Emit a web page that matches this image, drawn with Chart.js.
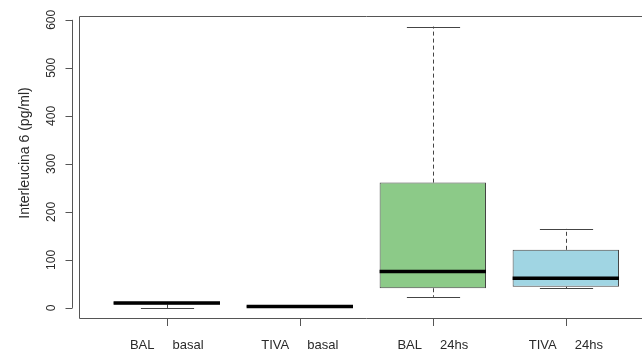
<!DOCTYPE html>
<html>
<head>
<meta charset="utf-8">
<script src="https://cdn.jsdelivr.net/npm/chart.js@4.4.1/dist/chart.umd.min.js"></script>
<style>
  html, body { margin: 0; padding: 0; background: #ffffff; overflow: hidden; }
  #wrap { width: 642px; height: 351px; overflow: hidden; }
  canvas { display: block; }
</style>
</head>
<body>
<div id="wrap"><canvas id="chart" width="662" height="351"></canvas></div>
<script>
// Interleukin 6 by group: five-number summaries per box
const categories  = ['BAL     basal', 'TIVA     basal', 'BAL     24hs', 'TIVA     24hs'];
const whiskerLow  = [0, 1, 23, 41];
const q1          = [7, 2, 41, 44];
const median      = [10, 3, 76, 62];
const q3          = [13, 4.5, 261, 121];
const whiskerHigh = [13, 5, 586, 165];
const boxColors   = ['#ffffff', '#ffffff', '#8cca88', '#a0d5e3'];
const yTicks      = [0, 100, 200, 300, 400, 500, 600];
const yTitle      = 'Interleucina 6 (pg/ml)';

const FONT = '"Liberation Sans", Arial, sans-serif';
const INK = '#2a2a2a';

const boxplotExtras = {
  id: 'boxplotExtras',
  beforeDatasetsDraw(chart) {
    const { ctx } = chart;
    const y = chart.scales.y;
    const bars = chart.getDatasetMeta(0).data;
    ctx.save();
    bars.forEach((bar, i) => {
      const cx = Math.round(bar.x) + 0.5;
      const half = bar.width / 4;
      ctx.strokeStyle = '#444';
      ctx.lineWidth = 1;
      // dashed whiskers
      ctx.setLineDash([4, 3]);
      ctx.beginPath();
      ctx.moveTo(cx, y.getPixelForValue(q3[i]));
      ctx.lineTo(cx, y.getPixelForValue(whiskerHigh[i]));
      ctx.moveTo(cx, y.getPixelForValue(q1[i]));
      ctx.lineTo(cx, y.getPixelForValue(whiskerLow[i]));
      ctx.stroke();
      // whisker caps
      ctx.setLineDash([]);
      ctx.beginPath();
      [whiskerHigh[i], whiskerLow[i]].forEach(v => {
        const py = Math.round(y.getPixelForValue(v)) + 0.5;
        ctx.moveTo(cx - half, py);
        ctx.lineTo(cx + half, py);
      });
      ctx.stroke();
    });
    ctx.restore();
  },
  afterDatasetsDraw(chart) {
    const { ctx } = chart;
    const y = chart.scales.y;
    const bars = chart.getDatasetMeta(0).data;
    ctx.save();
    ctx.strokeStyle = '#000';
    ctx.lineWidth = 3.5;
    bars.forEach((bar, i) => {
      const py = y.getPixelForValue(median[i]);
      ctx.beginPath();
      ctx.moveTo(bar.x - bar.width / 2, py);
      ctx.lineTo(bar.x + bar.width / 2, py);
      ctx.stroke();
    });
    ctx.restore();
  },
  afterDraw(chart) {
    const { ctx, chartArea: a } = chart;
    const y = chart.scales.y;
    const x = chart.scales.x;
    ctx.save();
    ctx.strokeStyle = '#555';
    ctx.lineWidth = 1;
    // plot frame
    ctx.beginPath();
    ctx.moveTo(a.right, Math.round(a.top) + 0.5);
    ctx.lineTo(Math.round(a.left) + 0.5, Math.round(a.top) + 0.5);
    ctx.lineTo(Math.round(a.left) + 0.5, Math.round(a.bottom) + 0.5);
    ctx.lineTo(a.right, Math.round(a.bottom) + 0.5);
    ctx.stroke();

    // y axis, set off to the left of the frame
    const ax = Math.round(a.left) - 6.5;
    ctx.beginPath();
    ctx.moveTo(ax, y.getPixelForValue(yTicks[0]));
    ctx.lineTo(ax, y.getPixelForValue(yTicks[yTicks.length - 1]));
    yTicks.forEach(t => {
      const py = Math.round(y.getPixelForValue(t)) + 0.5;
      ctx.moveTo(ax, py);
      ctx.lineTo(ax - 7, py);
    });
    ctx.stroke();

    ctx.fillStyle = INK;
    ctx.font = '12px ' + FONT;
    ctx.textAlign = 'center';
    ctx.textBaseline = 'middle';
    yTicks.forEach(t => {
      const py = y.getPixelForValue(t);
      ctx.save();
      ctx.translate(52, py);
      ctx.rotate(-Math.PI / 2);
      ctx.fillText(String(t), 0, 0);
      ctx.restore();
    });

    // y axis title
    ctx.save();
    ctx.font = '14px ' + FONT;
    ctx.translate(25, 153);
    ctx.rotate(-Math.PI / 2);
    ctx.fillText(yTitle, 0, 0);
    ctx.restore();

    // x axis ticks and group labels
    ctx.beginPath();
    categories.forEach((c, i) => {
      const px = Math.round(x.getPixelForValue(i)) + 0.5;
      ctx.moveTo(px, Math.round(a.bottom) + 0.5);
      ctx.lineTo(px, Math.round(a.bottom) + 8);
    });
    ctx.stroke();
    ctx.font = '13px ' + FONT;
    categories.forEach((c, i) => {
      ctx.fillText(c, x.getPixelForValue(i), 345);
    });
    ctx.restore();
  }
};

new Chart(document.getElementById('chart'), {
  type: 'bar',
  data: {
    datasets: [{
      data: categories.map((c, i) => ({ x: i, y: [q1[i], q3[i]] })),
      backgroundColor: boxColors,
      borderColor: '#444',
      borderWidth: 1,
      borderSkipped: false,
      categoryPercentage: 1,
      barPercentage: 0.8
    }]
  },
  options: {
    responsive: false,
    animation: false,
    events: [],
    layout: { padding: { left: 79, top: 16, right: 8.4, bottom: 33 } },
    plugins: { legend: { display: false }, tooltip: { enabled: false } },
    scales: {
      x: {
        type: 'linear', min: -0.66, max: 3.66, offset: false, display: false,
        // one tick per group, so box widths follow the group spacing
        afterBuildTicks: scale => { scale.ticks = categories.map((c, i) => ({ value: i })); }
      },
      y: { min: -21, max: 608, display: false }
    }
  },
  plugins: [boxplotExtras]
});
</script>
</body>
</html>
